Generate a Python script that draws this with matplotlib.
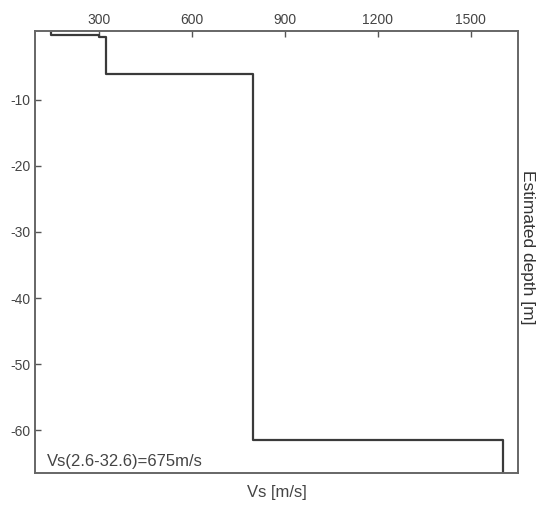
import numpy as np
import matplotlib
matplotlib.use("Agg")
import matplotlib.pyplot as plt

plt.rcParams['font.family'] = ['Liberation Sans', 'DejaVu Sans']
plt.rcParams['axes.unicode_minus'] = False

# layered shear-wave velocity profile
vs_layers = [145, 300, 322, 795, 1605]       # m/s
layer_bottoms = [-0.3, -0.6, -6.2, -61.5]    # m, last layer is half-space
x_ticks = [300, 600, 900, 1200, 1500]
y_ticks = [-10, -20, -30, -40, -50, -60]
vs_note = "Vs(2.6-32.6)=675m/s"

y_min = -66.4

# step profile
tops = [0] + layer_bottoms
bots = layer_bottoms + [y_min]
xs = np.repeat(vs_layers, 2)
ys = np.ravel(list(zip(tops, bots)))

fig = plt.figure(figsize=(5.42, 5.12), dpi=100)
ax = fig.add_axes([0.0646, 0.0768, 0.8917, 0.8617])

ax.plot(xs, ys, color='#3a3a3a', lw=1.6)

ax.set_xlim(92, 1654)
ax.set_ylim(y_min, 0.3)
ax.xaxis.tick_top()
ax.set_xticks(x_ticks)
ax.set_yticks(y_ticks)
ax.tick_params(direction='in', length=4, width=1, colors='#555555',
               labelsize=10, pad=3)
ax.tick_params(axis='both', labelcolor='#444444')

for s in ax.spines.values():
    s.set_color('#666666')
    s.set_linewidth(1.4)

ax.set_xlabel('Vs [m/s]', fontsize=12, color='#444444')
ax.xaxis.set_label_position('bottom')
ax.xaxis.labelpad = 9
ax.yaxis.set_label_position('right')
ax.set_ylabel('Estimated depth [m]', fontsize=12.5, color='#333333',
              rotation=-90, labelpad=15)
ax.yaxis.set_label_coords(1.035, 0.51)

ax.text(0.024, 0.008, vs_note, transform=ax.transAxes, fontsize=12,
        color='#444444', ha='left', va='bottom')

fig.savefig('out.png', dpi=100)
